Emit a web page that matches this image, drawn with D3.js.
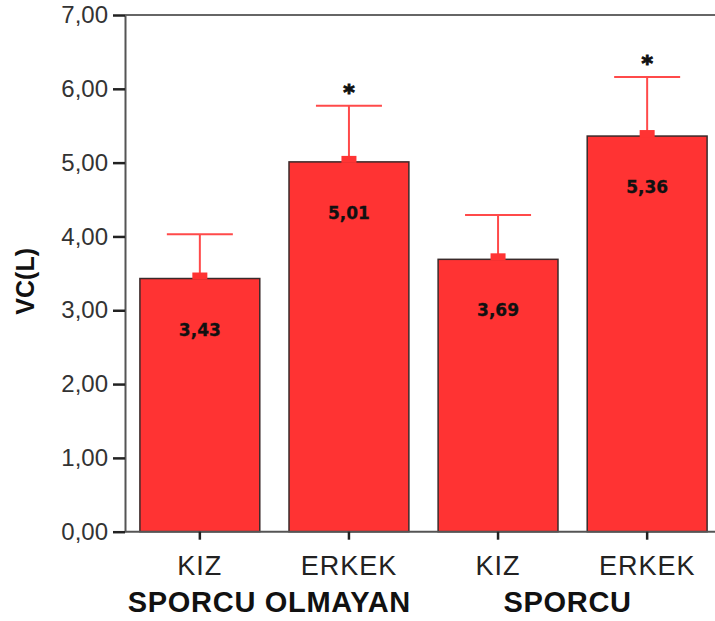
<!DOCTYPE html>
<html>
<head>
<meta charset="utf-8">
<script src="https://cdn.jsdelivr.net/npm/d3@7"></script>
<style>
  html, body { margin: 0; padding: 0; background: #ffffff; }
  svg { display: block; }
</style>
</head>
<body>
<svg id="chart" width="715" height="621"></svg>
<script>
// Vital capacity (VC, litres) by sport status and sex
const categories = ["KIZ", "ERKEK", "KIZ", "ERKEK"];
const groups = ["SPORCU OLMAYAN", "SPORCU"];
const groupOf = [0, 0, 1, 1];
const means = [3.43, 5.01, 3.69, 5.36];
const upperErr = [4.03, 5.77, 4.29, 6.16];
const significant = [false, true, false, true];
const yTicks = [0, 1, 2, 3, 4, 5, 6, 7];
const yLabel = "VC(L)";

const svg = d3.select("#chart");
const plot = { left: 125, right: 722, top: 15, bottom: 531.7 };

const x = d3.scaleBand()
  .domain(d3.range(categories.length))
  .range([plot.left, plot.right])
  .paddingInner(0.196)
  .paddingOuter(0.1);

const y = d3.scaleLinear().domain([0, 7]).range([plot.bottom, plot.top]);

const fmt = v => d3.format(".2f")(v).replace(".", ",");

// frame: top border line
svg.append("line")
  .attr("x1", plot.left).attr("x2", 715)
  .attr("y1", y(7)).attr("y2", y(7))
  .attr("stroke", "#666").attr("stroke-width", 2);

// bars
const bars = svg.append("g");
bars.selectAll("rect")
  .data(means)
  .join("rect")
  .attr("x", (d, i) => x(i))
  .attr("y", d => y(d))
  .attr("width", x.bandwidth())
  .attr("height", d => y(0) - y(d))
  .attr("fill", "#ff3333")
  .attr("stroke", "#3a2a2a")
  .attr("stroke-width", 1.5);

// error bars (upper whisker)
const eb = svg.append("g").attr("stroke", "#ff4a4a").attr("stroke-width", 2);
means.forEach((m, i) => {
  const cx = x(i) + x.bandwidth() / 2;
  eb.append("line")
    .attr("x1", cx).attr("x2", cx)
    .attr("y1", y(m)).attr("y2", y(upperErr[i]));
  eb.append("line")
    .attr("x1", cx - 33).attr("x2", cx + 33)
    .attr("y1", y(upperErr[i])).attr("y2", y(upperErr[i]));
  // mean marker
  svg.append("rect")
    .attr("x", cx - 7.5).attr("y", y(m) - 6)
    .attr("width", 15).attr("height", 7)
    .attr("fill", "#ff3333");
});

// significance markers
svg.append("g").selectAll("text")
  .data(means.map((m, i) => i).filter(i => significant[i]))
  .join("text")
  .attr("x", i => x(i) + x.bandwidth() / 2)
  .attr("y", i => y(upperErr[i]) - 6)
  .attr("text-anchor", "middle")
  .attr("font-family", "DejaVu Sans, sans-serif")
  .attr("font-weight", "bold")
  .attr("font-size", 22)
  .attr("fill", "#111")
  .attr("stroke", "#111")
  .attr("stroke-width", 1)
  .text("*");

// value labels inside bars
svg.append("g").selectAll("text")
  .data(means)
  .join("text")
  .attr("x", (d, i) => x(i) + x.bandwidth() / 2)
  .attr("y", d => y(d) + 57)
  .attr("text-anchor", "middle")
  .attr("font-family", "DejaVu Sans, sans-serif")
  .attr("font-weight", "bold")
  .attr("font-size", 17)
  .attr("fill", "#111")
  .attr("stroke", "#111")
  .attr("stroke-width", 0.3)
  .text(d => fmt(d));

// y axis
const yAxis = svg.append("g")
  .attr("transform", `translate(${plot.left},0)`)
  .call(d3.axisLeft(y).tickValues(yTicks).tickFormat(fmt).tickSize(12).tickSizeOuter(0));
yAxis.select(".domain").attr("stroke", "#555").attr("stroke-width", 2);
yAxis.selectAll(".tick line").attr("stroke", "#222").attr("stroke-width", 2.5);
yAxis.selectAll(".tick text")
  .attr("x", -17)
  .attr("font-family", "Liberation Sans, Arial, sans-serif")
  .attr("font-size", 24)
  .attr("fill", "#333");

// x axis
const xAxis = svg.append("g")
  .attr("transform", `translate(0,${plot.bottom})`)
  .call(d3.axisBottom(x).tickFormat(i => categories[i]).tickSize(8).tickSizeOuter(0));
xAxis.select(".domain")
  .attr("d", `M${plot.left},0H715`)
  .attr("stroke", "#555").attr("stroke-width", 2);
xAxis.selectAll(".tick line").attr("stroke", "#222").attr("stroke-width", 2.5);
xAxis.selectAll(".tick text")
  .attr("y", 43).attr("dy", 0)
  .attr("font-family", "Liberation Sans, Arial, sans-serif")
  .attr("font-size", 27)
  .attr("letter-spacing", 1)
  .attr("fill", "#222");

// group labels
svg.append("g").selectAll("text")
  .data(groups)
  .join("text")
  .attr("x", (g, gi) => {
    const idx = d3.range(categories.length).filter(i => groupOf[i] === gi);
    return d3.mean(idx, i => x(i) + x.bandwidth() / 2) - 5;
  })
  .attr("y", 612)
  .attr("text-anchor", "middle")
  .attr("font-family", "Liberation Sans, Arial, sans-serif")
  .attr("font-weight", "bold")
  .attr("font-size", 29)
  .attr("letter-spacing", 0.7)
  .attr("fill", "#111")
  .text(d => d);

// y axis title
svg.append("text")
  .attr("transform", `translate(34,${(y(7) + y(0)) / 2 + 8}) rotate(-90)`)
  .attr("text-anchor", "middle")
  .attr("font-family", "Liberation Sans, Arial, sans-serif")
  .attr("font-weight", "bold")
  .attr("font-size", 25)
  .attr("fill", "#111")
  .text(yLabel);
</script>
</body>
</html>
